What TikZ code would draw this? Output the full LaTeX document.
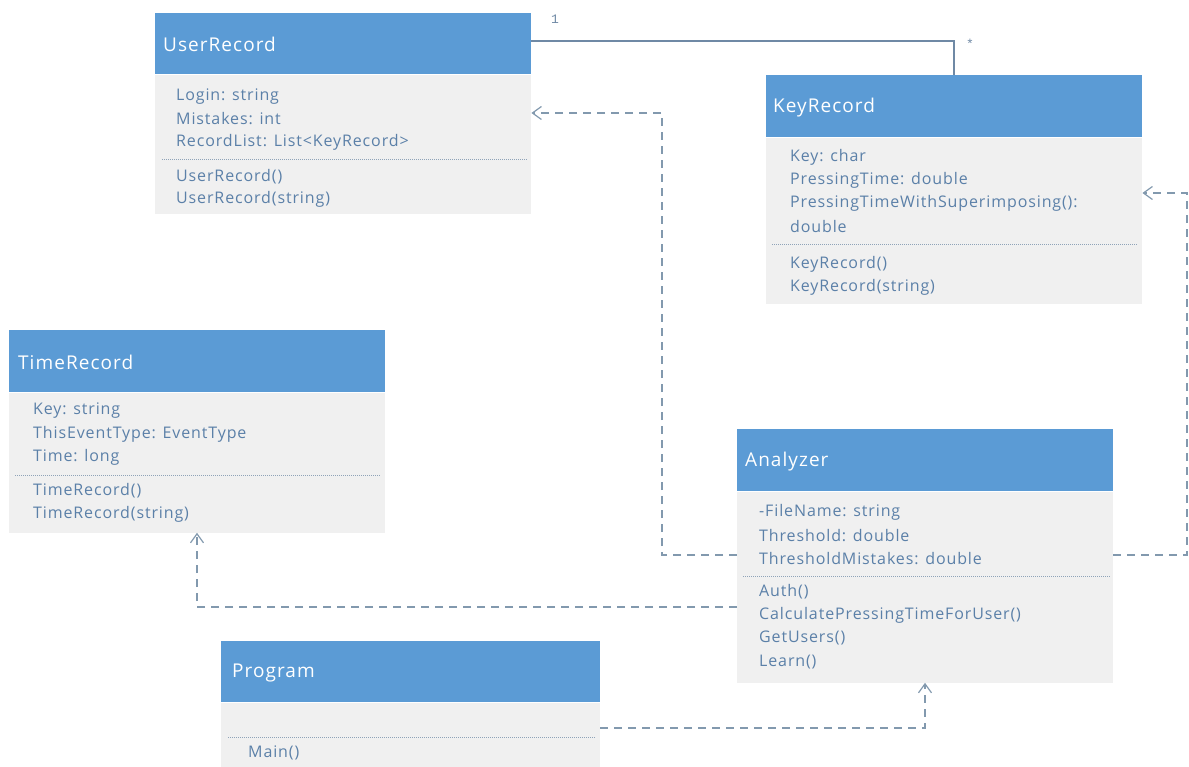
\documentclass[tikz,border=0pt]{standalone}
\usepackage{fontspec}
\setmainfont{Open Sans}[LetterSpace=5.5]
\newfontfamily\labelfont{Liberation Mono}
\usetikzlibrary{arrows.meta}

\definecolor{hdr}{HTML}{5B9BD5}
\definecolor{bodyfill}{HTML}{F0F0F0}
\definecolor{membertext}{HTML}{5B80A8}
\definecolor{linkcol}{HTML}{8299AE}
\definecolor{assoccol}{HTML}{6F89A5}
\definecolor{sepcol}{HTML}{8FA3B8}

\tikzset{
  hdrbox/.style={fill=hdr, draw=none, anchor=north west, inner sep=0pt},
  bodybox/.style={fill=bodyfill, draw=none, anchor=north west, inner sep=0pt},
  titletext/.style={anchor=west, inner sep=0pt, text=white, font=\fontsize{19}{21}\selectfont},
  member/.style={anchor=west, inner sep=0pt, text=membertext, font=\fontsize{16}{18}\selectfont},
  sepline/.style={draw=sepcol, line width=0.8pt, dash pattern=on 1pt off 1pt},
  dep/.style={draw=linkcol, line width=1.3pt, dash pattern=on 8pt off 6pt,
    -{Straight Barb[length=9pt, width=13pt, line width=1.2pt]}},
  assoc/.style={draw=assoccol, line width=1.5pt},
  multlabel/.style={inner sep=0pt, text=assoccol, font=\labelfont\fontsize{13}{15}\selectfont}
}

% class box: name, x, y, width, header height, body height, title, title indent
\newcommand{\umlclass}[8]{%
  \node[hdrbox, minimum width=#4pt, minimum height=#5pt] (#1-h) at (#2,#3) {};
  \node[bodybox, minimum width=#4pt, minimum height=#6pt] (#1-b) at (#1-h.south west) {};
  \node[titletext] (#1-t) at ([xshift=#8pt, yshift=-1pt]#1-h.west) {#7};
}

\begin{document}
\begin{tikzpicture}[x=1pt, y=-1pt]
\useasboundingbox (0,0) rectangle (1189,767);

% ---- classes ----
\umlclass{ur}{155}{13}{376}{61}{139}{UserRecord}{8}
\umlclass{kr}{766}{75}{376}{62}{166}{KeyRecord}{7}
\umlclass{tr}{9}{330}{376}{62}{140}{TimeRecord}{9}
\umlclass{an}{737}{429}{376}{62}{191}{Analyzer}{8}
\umlclass{pg}{221}{641}{379}{61}{75}{Program}{11}

% UserRecord members
\node[member] (ur-1) at (176,97) {Login: string};
\node[member] (ur-2) at (176,119) {Mistakes: int};
\node[member] (ur-3) at (176,142) {RecordList: List<KeyRecord>};
\draw[sepline] (162,159) -- (528,159);
\node[member] (ur-4) at (176,177) {UserRecord()};
\node[member] (ur-5) at (176,199) {UserRecord(string)};

% KeyRecord members
\node[member] (kr-1) at (790,157) {Key: char};
\node[member] (kr-2) at (790,180) {PressingTime: double};
\node[member] (kr-3) at (790,203) {PressingTimeWithSuperimposing():};
\node[member] (kr-4) at (790,227) {double};
\draw[sepline] (772,244) -- (1138,244);
\node[member] (kr-5) at (790,264) {KeyRecord()};
\node[member] (kr-6) at (790,287) {KeyRecord(string)};

% TimeRecord members
\node[member] (tr-1) at (33,411) {Key: string};
\node[member] (tr-2) at (33,434) {ThisEventType: EventType};
\node[member] (tr-3) at (33,457) {Time: long};
\draw[sepline] (15,475) -- (381,475);
\node[member] (tr-4) at (33,491) {TimeRecord()};
\node[member] (tr-5) at (33,514) {TimeRecord(string)};

% Analyzer members
\node[member] (an-1) at (759,512) {-FileName: string};
\node[member] (an-2) at (759,536) {Threshold: double};
\node[member] (an-3) at (759,559) {ThresholdMistakes: double};
\draw[sepline] (743,576) -- (1110,576);
\node[member] (an-4) at (759,592) {Auth()};
\node[member] (an-5) at (759,615) {CalculatePressingTimeForUser()};
\node[member] (an-6) at (759,638) {GetUsers()};
\node[member] (an-7) at (759,662) {Learn()};

% Program members
\draw[sepline] (228,737) -- (596,737);
\node[member] (pg-1) at (248,753) {Main()};

% ---- association UserRecord 1 -- * KeyRecord ----
\draw[assoc] ([yshift=2.5pt]ur-h.east) -| (kr-h.north);
\node[multlabel] (m1) at (555,19) {1};
\node[multlabel] (m2) at (970,44) {*};

% ---- dependencies of Analyzer and Program ----
\coordinate (u1) at (662,555);
\coordinate (u2) at (662,113);
\draw[dep] (an-b.west |- u1) -- (u1) -- (u2) -- (ur-b.east |- u2);

\coordinate (k1) at (1187,555);
\coordinate (k2) at (1187,193);
\draw[dep] (an-b.east |- k1) -- (k1) -- (k2) -- (kr-b.east |- k2);

\coordinate (t1) at (197,607);
\draw[dep] (an-b.west |- t1) -- (t1) -- (t1 |- tr-b.south);

\coordinate (p1) at (925,728);
\draw[dep] (pg-b.east |- p1) -- (p1) -- (p1 |- an-b.south);
\end{tikzpicture}
\end{document}
